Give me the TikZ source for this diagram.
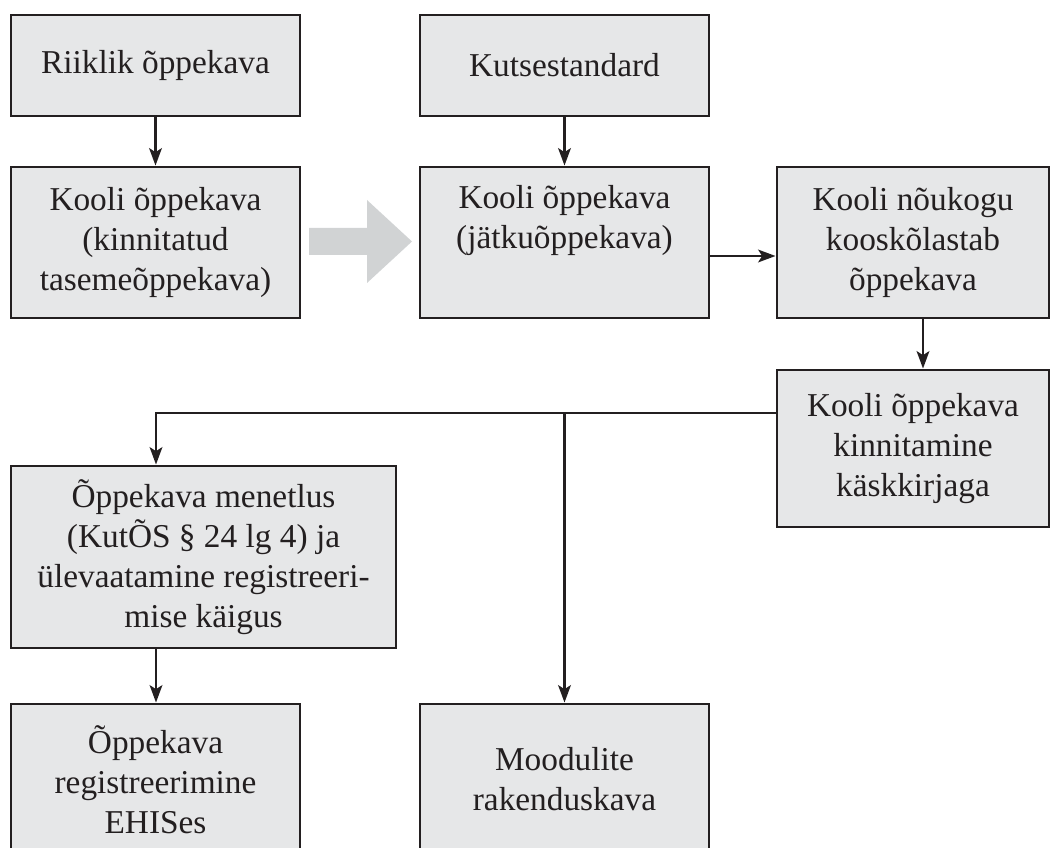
\documentclass[tikz,border=0pt]{standalone}
\usepackage{fontspec}
\setmainfont{Liberation Serif}
\usetikzlibrary{arrows.meta}
\definecolor{ink}{HTML}{231F20}
\definecolor{boxfill}{HTML}{E6E7E8}
\definecolor{bigarrow}{HTML}{D1D3D4}
\begin{document}
\begin{tikzpicture}[x=0.75pt,y=-0.75pt,
  stage/.style={draw=ink, fill=boxfill, line width=2.2pt, inner sep=0pt,
    align=center, text=ink, font=\fontsize{25pt}{30pt}\selectfont},
  colbox/.style={stage, minimum width=216.75pt},
  sidebox/.style={stage, minimum width=204pt},
  widebox/.style={stage, minimum width=288.75pt},
  conn/.style={draw=ink, line width=2pt,
    -{Stealth[length=13pt,width=9.5pt,inset=3pt]}},
]
\useasboundingbox (0,0) rectangle (1051,848);
\clip (0,0) rectangle (1051,848);

% guide coordinates for connectors that leave a box off-centre
\coordinate (xL) at (156,0);
\coordinate (xR) at (923,0);
\coordinate (yA) at (0,256);
\coordinate (yL) at (0,413);

% boxes
\node[colbox, minimum height=75.75pt] (b1) at (155.5,65.5) {Riiklik õppekava};
\node[colbox, minimum height=75.75pt] (b2) at (564.5,65.5) {Kutsestandard};
\node[colbox, minimum height=113.25pt] (b3) at (155.5,242.5)
  {Kooli õppekava\\(kinnitatud\\tasemeõppekava)};
\node[colbox, minimum height=113.25pt] (b4) at (564.5,242.5)
  {Kooli õppekava\\(jätkuõppekava)\\\strut};
\node[sidebox, minimum height=113.25pt] (b5) at (913,242.5)
  {Kooli nõukogu\\kooskõlastab\\õppekava};
\node[sidebox, minimum height=117.75pt] (b6) at (913,448.5)
  {Kooli õppekava\\kinnitamine\\käskkirjaga};
\node[widebox, minimum height=136.5pt] (b7) at (203.5,557)
  {Õppekava menetlus\\(KutÕS § 24 lg 4) ja\\ülevaatamine registreeri-\\mise käigus};
\node[colbox, minimum height=113.25pt] (b8) at (155.5,779.5)
  {Õppekava\\registreerimine\\EHISes};
\node[colbox, minimum height=113.25pt] (b9) at (564.5,779.5)
  {Moodulite\\rakenduskava};

% wide grey arrow between the two school curricula
\fill[bigarrow] (309,228) -- (367,228) -- (367,200) -- (412,241.5)
  -- (367,283) -- (367,255) -- (309,255) -- cycle;

% connectors
\draw[conn] (b1.south) -- (b3.north);
\draw[conn] (b2.south) -- (b4.north);
\draw[conn] (b4.east |- yA) -- (b5.west |- yA);
\draw[conn] (b5.south -| xR) -- (b6.north -| xR);
\draw[conn] (b6.west |- yL) -| (b7.north -| xL);
\draw[conn] (b9.north |- yL) -- (b9.north);
\draw[conn] (b7.south -| xL) -- (b8.north -| xL);
\end{tikzpicture}
\end{document}
